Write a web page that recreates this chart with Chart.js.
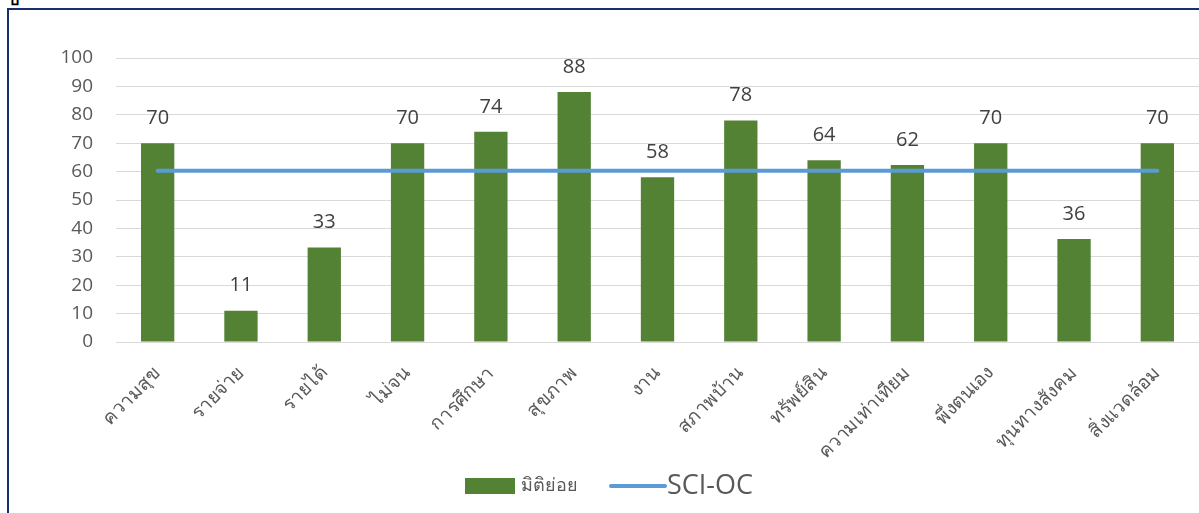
<!DOCTYPE html>
<html>
<head>
<meta charset="utf-8">
<script src="https://cdn.jsdelivr.net/npm/chart.js@4.4.1/dist/chart.umd.min.js"></script>
<style>
  html, body { margin: 0; padding: 0; background: #fff; overflow: hidden; }
  #wrap { position: relative; width: 1199px; height: 513px; }
  #frame { position: absolute; left: 7px; top: 8px; width: 1300px; height: 600px; border: 2px solid #14306e; box-sizing: border-box; }
  #cut { position: absolute; left: 9px; top: -13px; font: bold 16px 'Noto Sans', sans-serif; color: #000; }
  #box { position: absolute; left: 0; top: 0; width: 1199px; height: 513px; }
</style>
</head>
<body>
<div id="wrap">
  <div id="frame"></div>
  <div id="cut">ป</div>
  <div id="box"><canvas id="myChart"></canvas></div>
</div>
<script>
const categories = ["ความสุข", "รายจ่าย", "รายได้", "ไม่จน", "การศึกษา", "สุขภาพ", "งาน", "สภาพบ้าน", "ทรัพย์สิน", "ความเท่าเทียม", "พึ่งตนเอง", "ทุนทางสังคม", "สิ่งแวดล้อม"];
const subValues = [70, 11, 33.3, 70, 74, 88, 58, 78, 64, 62.3, 70, 36.3, 70];
const sciValues = [60.3, 60.3, 60.3, 60.3, 60.3, 60.3, 60.3, 60.3, 60.3, 60.3, 60.3, 60.3, 60.3];
const yTicks = [0, 10, 20, 30, 40, 50, 60, 70, 80, 90, 100];
const seriesNames = ["มิติย่อย", "SCI-OC"];

const fontFamily = "'Open Sans', 'Noto Sans', 'Liberation Sans', sans-serif";
const green = "#548235";
const blue = "#5B9BD5";
const grey = "#595959";

// value labels above the bars
const barLabels = {
  id: "barLabels",
  afterDatasetsDraw(chart) {
    const ctx = chart.ctx;
    const meta = chart.getDatasetMeta(0);
    ctx.save();
    ctx.font = "20px " + fontFamily;
    ctx.fillStyle = "#404040";
    ctx.textAlign = "center";
    ctx.textBaseline = "middle";
    meta.data.forEach((bar, i) => {
      ctx.fillText(Math.round(subValues[i]), bar.x, bar.y - 25);
    });
    ctx.restore();
  }
};

// legend at the bottom, bigger text for the line series like the original
const bottomLegend = {
  id: "bottomLegend",
  afterDraw(chart) {
    const ctx = chart.ctx;
    const y = 486;
    ctx.save();
    ctx.fillStyle = green;
    ctx.fillRect(465, 478, 50, 16);
    ctx.fillStyle = grey;
    ctx.textBaseline = "middle";
    ctx.font = "18px " + fontFamily;
    ctx.fillText(chart.data.datasets[0].label, 521, y);
    ctx.strokeStyle = blue;
    ctx.lineWidth = 4;
    ctx.lineCap = "round";
    ctx.beginPath();
    ctx.moveTo(611, y);
    ctx.lineTo(665, y);
    ctx.stroke();
    ctx.font = "27px " + fontFamily;
    ctx.fillText(chart.data.datasets[1].label, 667, y);
    ctx.restore();
  }
};

new Chart("myChart", {
  type: "bar",
  data: {
    labels: categories,
    datasets: [{
      label: seriesNames[0],
      data: subValues,
      backgroundColor: green,
      barPercentage: 0.4,
      categoryPercentage: 1,
      order: 1
    }, {
      type: "line",
      label: seriesNames[1],
      data: sciValues,
      borderColor: blue,
      borderWidth: 4,
      borderCapStyle: "round",
      pointRadius: 0,
      order: 0
    }]
  },
  options: {
    responsive: true,
    maintainAspectRatio: false,
    animation: false,
    layout: { padding: { top: 58, right: 0, left: 0, bottom: 0 } },
    plugins: {
      legend: { display: false },
      tooltip: { enabled: false }
    },
    scales: {
      x: {
        grid: { display: false },
        border: { color: "#D9D9D9" },
        ticks: {
          color: grey,
          font: { family: fontFamily, size: 19 },
          maxRotation: 45,
          minRotation: 45,
          padding: 12
        },
        afterFit(scale) { scale.height = 171; }
      },
      y: {
        min: 0,
        max: 100,
        afterBuildTicks(scale) { scale.ticks = yTicks.map(v => ({ value: v })); },
        grid: { color: "#D9D9D9", drawTicks: false },
        border: { display: false },
        ticks: {
          color: grey,
          font: { family: fontFamily, size: 19 },
          padding: 23
        },
        afterFit(scale) { scale.width = 116; }
      }
    }
  },
  plugins: [barLabels, bottomLegend]
});
</script>
</body>
</html>
